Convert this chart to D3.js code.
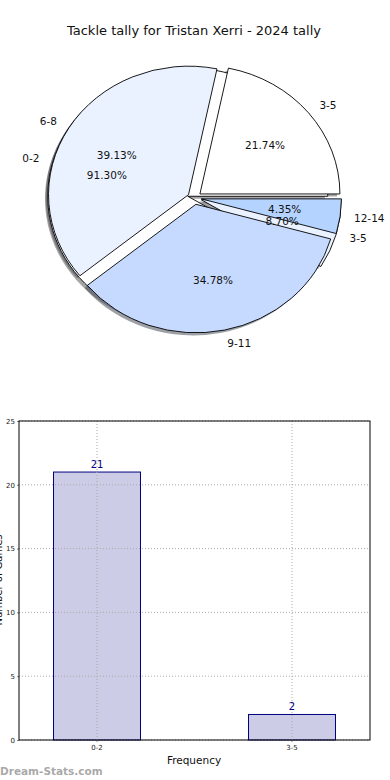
<!DOCTYPE html>
<html><head><meta charset="utf-8">
<script src="https://cdn.jsdelivr.net/npm/d3@7"></script>
<style>body{margin:0;background:#fff} svg{display:block} text{font-family:"DejaVu Sans",sans-serif}</style>
</head><body><svg id="c" width="390" height="780"></svg>
<script>
const titleText = "Tackle tally for Tristan Xerri - 2024 tally";
const pie1Labels = ["0-2", "3-5"];
const pie1Values = [21, 2];
const pie2Labels = ["3-5", "6-8", "9-11", "12-14"];
const pie2Values = [5, 9, 8, 1];
const pieColors = ["#FFFFFF", "#EAF1FF", "#C6D9FF", "#B5D3FF"];
const barCategories = ["0-2", "3-5"];
const barValues = [21, 2];
const yTicks = [0, 5, 10, 15, 20, 25];
const xLabel = "Frequency";
const yLabel = "Number of Games";
const watermark = "Dream-Stats.com";

const svg = d3.select("#c");
svg.append("rect").attr("width", 390).attr("height", 780).attr("fill", "#fff");
svg.append("text").attr("x", 194).attr("y", 34.5).attr("text-anchor", "middle")
  .attr("font-size", 13).attr("fill", "#111").text(titleText);

// ---- pie ----
const cx = 194.5, cy = 198, rx = 140, ry = 128.5, explode = 0.05;
const pieGen = d3.pie().sort(null).startAngle(Math.PI / 2).endAngle(Math.PI / 2 - 2 * Math.PI);
const arcGen = d3.arc().innerRadius(0).outerRadius(rx);
function layout(labels, values) {
  const total = d3.sum(values);
  return pieGen(values).map((d, i) => {
    const mid = (d.startAngle + d.endAngle) / 2;
    return Object.assign({}, d, {
      label: labels[i], color: pieColors[i], mid,
      pct: (d.value / total * 100).toFixed(2) + "%",
      dx: explode * rx * Math.sin(mid), dy: -explode * ry * Math.cos(mid)
    });
  });
}
const pies = [layout(pie1Labels, pie1Values), layout(pie2Labels, pie2Values)];
const shadowColor = c => { const r = d3.rgb(c); return d3.rgb(r.r * 0.3, r.g * 0.3, r.b * 0.3).toString(); };

const pieG = svg.append("g");
pies.forEach(p => {
  p.forEach(d => {
    pieG.append("path")
      .attr("transform", `translate(${cx + d.dx - 2.8},${cy + d.dy + 2.6}) scale(1,${ry / rx})`)
      .attr("d", arcGen(d)).attr("fill", shadowColor(d.color)).attr("fill-opacity", 0.5);
  });
});
pies.forEach(p => {
  p.forEach(d => {
    pieG.append("path")
      .attr("transform", `translate(${cx + d.dx},${cy + d.dy}) scale(1,${ry / rx})`)
      .attr("d", arcGen(d)).attr("fill", d.color)
      .attr("stroke", "#000").attr("stroke-width", 0.9)
      .attr("stroke-linejoin", "round")
      .attr("vector-effect", "non-scaling-stroke");
  });
});
pies.forEach(p => {
  p.forEach(d => {
    const s = Math.sin(d.mid), c = Math.cos(d.mid);
    pieG.append("text")
      .attr("x", cx + d.dx + 1.1 * rx * s).attr("y", cy + d.dy - 1.1 * ry * c)
      .attr("text-anchor", s > 0 ? "start" : "end").attr("dominant-baseline", "central")
      .attr("font-size", 10.5).attr("fill", "#111").text(d.label);
    pieG.append("text")
      .attr("x", cx + d.dx + 0.6 * rx * s).attr("y", cy + d.dy - 0.6 * ry * c)
      .attr("text-anchor", "middle").attr("dominant-baseline", "central")
      .attr("font-size", 10.5).attr("fill", "#111").text(d.pct);
  });
});

// ---- bar chart ----
const L = 19, R = 370, T = 421, B = 740;
const x = d3.scaleBand().domain(barCategories).range([L, R]).paddingInner(0.554).paddingOuter(0.177);
const y = d3.scaleLinear().domain([0, 25]).range([B, T]);
const barG = svg.append("g");

barG.selectAll(".bar").data(barValues).enter().append("rect")
  .attr("x", (d, i) => x(barCategories[i])).attr("width", x.bandwidth())
  .attr("y", d => y(d)).attr("height", d => B - y(d))
  .attr("fill", "#CCCCE6").attr("stroke", "#000080").attr("stroke-width", 1);
// grid (drawn above bars)
barG.selectAll(".vg").data(barCategories).enter().append("line")
  .attr("x1", d => x(d) + x.bandwidth() / 2).attr("x2", d => x(d) + x.bandwidth() / 2)
  .attr("y1", T).attr("y2", B)
  .attr("stroke", "#aaaaaa").attr("stroke-width", 1).attr("stroke-dasharray", "1,2");
barG.selectAll(".hg").data(yTicks).enter().append("line")
  .attr("x1", L).attr("x2", R).attr("y1", d => y(d)).attr("y2", d => y(d))
  .attr("stroke", "#aaaaaa").attr("stroke-width", 1).attr("stroke-dasharray", "1,2");

barG.selectAll(".vl").data(barValues).enter().append("text")
  .attr("x", (d, i) => x(barCategories[i]) + x.bandwidth() / 2).attr("y", d => y(d) - 4)
  .attr("text-anchor", "middle").attr("font-size", 10).attr("fill", "#000080").text(d => d);

const yAxis = d3.axisLeft(y).tickValues(yTicks).tickSize(2).tickPadding(2);
const yg = barG.append("g").attr("transform", `translate(${L},0)`).call(yAxis);
yg.select(".domain").remove();
yg.selectAll("line").attr("stroke", "#888");
yg.selectAll("text").attr("font-size", 7).attr("fill", "#222").attr("font-family", "DejaVu Sans");
const xAxis = d3.axisBottom(x).tickSize(2).tickPadding(3);
const xg = barG.append("g").attr("transform", `translate(0,${B})`).call(xAxis);
xg.select(".domain").remove();
xg.selectAll("line").attr("stroke", "#888");
xg.selectAll("text").attr("font-size", 7).attr("fill", "#222").attr("font-family", "DejaVu Sans");

barG.append("rect").attr("x", L).attr("y", T).attr("width", R - L).attr("height", B - T)
  .attr("fill", "none").attr("stroke", "#000").attr("stroke-width", 1);

svg.append("text").attr("x", 194).attr("y", 764).attr("text-anchor", "middle")
  .attr("font-size", 10.5).attr("fill", "#111").text(xLabel);
svg.append("text").attr("transform", "translate(1.5,580) rotate(-90)").attr("text-anchor", "middle")
  .attr("font-size", 10).attr("fill", "#111").text(yLabel);
svg.append("text").attr("x", 0).attr("y", 775).attr("font-size", 10.5).attr("font-weight", "bold")
  .attr("fill", "#999").attr("fill-opacity", 0.85).text(watermark);
</script></body></html>
